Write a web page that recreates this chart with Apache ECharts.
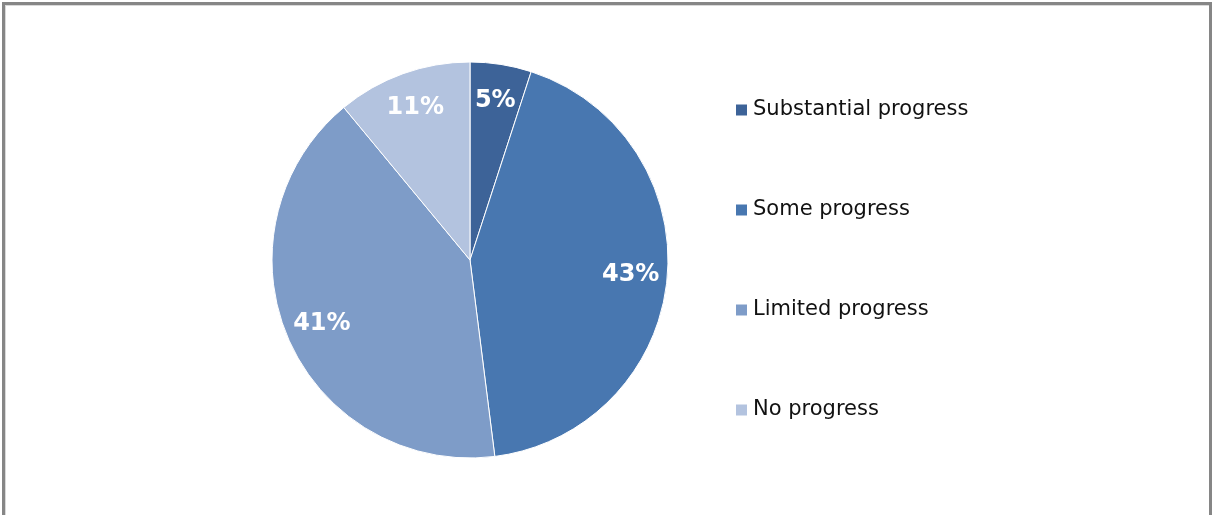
<!DOCTYPE html>
<html>
<head>
<meta charset="utf-8">
<script src="https://cdn.jsdelivr.net/npm/echarts@6/dist/echarts.min.js"></script>
<style>
  html, body { margin: 0; padding: 0; background: #ffffff; overflow: hidden; }
  #frame {
    position: absolute; left: 2px; top: 2px; width: 1204px; height: 530px;
    border: 3px solid #868686; border-bottom: none;
    box-shadow: inset 1px 1px 0 #d9d9d9;
  }
  #chart { position: absolute; left: 0; top: 0; width: 1213px; height: 515px; }
</style>
</head>
<body>
<div id="frame"></div>
<div id="chart"></div>
<script>
// Progress ratings, share of all assessed items (%)
const categories = ['Substantial progress', 'Some progress', 'Limited progress', 'No progress'];
const shares = [5, 43, 41, 11];
const colors = ['#3d6398', '#4877b0', '#7e9cc8', '#b3c3df'];

const pieData = categories.map((name, i) => ({
  name: name,
  value: shares[i],
  itemStyle: { color: colors[i] }
}));

const center = [470, 260];
const outerR = 198;

const chart = echarts.init(document.getElementById('chart'), null, { renderer: 'canvas' });
chart.setOption({
  animation: false,
  backgroundColor: 'transparent',
  legend: {
    orient: 'vertical',
    left: 734,
    top: 98,
    padding: 0,
    icon: 'rect',
    itemWidth: 13,
    itemHeight: 13,
    itemGap: 76,
    selectedMode: false,
    data: categories,
    textStyle: {
      fontFamily: 'DejaVu Sans',
      fontSize: 21,
      color: '#111111',
      lineHeight: 24
    }
  },
  series: [
    {
      // the filled wedges
      type: 'pie',
      center: center,
      radius: [0, outerR],
      startAngle: 90,
      clockwise: true,
      silent: true,
      data: pieData,
      label: { show: false },
      labelLine: { show: false },
      itemStyle: { borderColor: '#ffffff', borderWidth: 1 }
    },
    {
      // transparent ring that places the percentage labels near the rim
      type: 'pie',
      center: center,
      radius: [outerR * 0.6, outerR],
      startAngle: 90,
      clockwise: true,
      silent: true,
      legendHoverLink: false,
      data: categories.map((name, i) => ({
        name: name,
        value: shares[i],
        itemStyle: { color: 'rgba(0,0,0,0)' }
      })),
      label: {
        show: true,
        position: 'inside',
        formatter: p => p.value + '%',
        color: '#ffffff',
        fontFamily: 'DejaVu Sans',
        fontWeight: 'bold',
        fontSize: 24
      },
      labelLine: { show: false }
    }
  ]
});
</script>
</body>
</html>
